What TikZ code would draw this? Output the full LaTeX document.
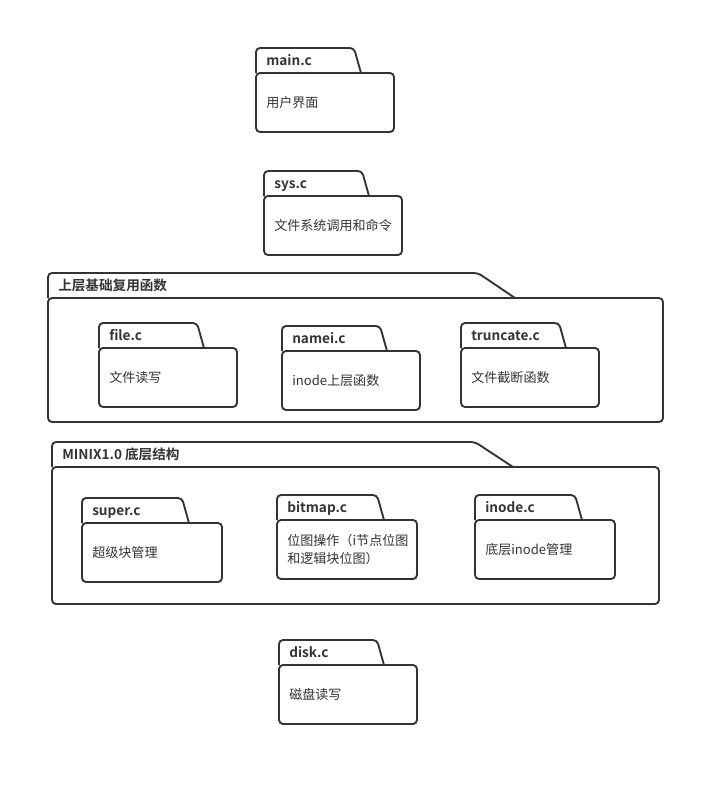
\documentclass[tikz,border=0pt]{standalone}
\usepackage{fontspec}
\setmainfont{Noto Sans CJK SC}[BoldFont={Noto Sans CJK SC Bold}]
\definecolor{pkgdark}{HTML}{333333}

\tikzset{
  pkgline/.style={draw=pkgdark, line width=1.4pt, line join=round},
  pkgtitle/.style={anchor=west, inner sep=0pt, text height=1.45ex, text depth=0pt,
    font=\fontsize{10.2}{12}\selectfont\bfseries, text=pkgdark},
  pkgtext/.style={anchor=west, inner sep=0pt, align=left, font=\fontsize{9.8}{13}\selectfont, text=pkgdark}
}

% package: #1 name, #2 x, #3 y of body top, #4 body width, #5 body height,
% #6 tab top width, #7 tab bottom width, #8 title, #9 text
\newcommand{\umlpkg}[9]{%
  \draw[pkgline, fill=white, rounded corners=3pt] (#2,#3) -- (#2,#3-25) -- (#2+#6,#3-25) -- (#2+#7,#3);
  \draw[pkgline, fill=white, rounded corners=3pt] (#2,#3) rectangle (#2+#4,#3+#5);
  \node[pkgtitle] (#1-title) at (#2+10,#3-12.5) {#8};
  \node[pkgtext] (#1-text) at (#2+10,#3+#5/2) {#9};
}

\begin{document}
\begin{tikzpicture}[x=0.75pt, y=-0.75pt]
  \useasboundingbox (0,0) rectangle (725,786);

  % top level files
  \umlpkg{main}{256}{73}{138}{59}{98}{105}{main.c}{用户界面}
  \umlpkg{sys}{264}{196}{138}{59}{98}{105}{sys.c}{文件系统调用和命令}

  % upper layer group
  \umlpkg{upper}{48}{298}{615}{124}{430}{467}{上层基础复用函数}{}
  \umlpkg{file}{99}{348}{138}{59}{98}{105}{file.c}{文件读写}
  \umlpkg{namei}{282}{351}{138}{59}{98}{105}{namei.c}{inode上层函数}
  \umlpkg{truncate}{461}{348}{138}{59}{98}{105}{truncate.c}{文件截断函数}

  % lower layer group
  \umlpkg{lower}{52}{467}{607}{137}{423}{461}{MINIX1.0 底层结构}{}
  \umlpkg{super}{82}{523}{140}{59}{100}{107}{super.c}{超级块管理}
  \umlpkg{bitmap}{277}{520}{140}{59}{100}{107}{bitmap.c}{位图操作（i节点位图\\和逻辑块位图）}
  \umlpkg{inode}{475}{520}{140}{59}{100}{107}{inode.c}{底层inode管理}

  % disk
  \umlpkg{disk}{279}{665}{138}{59}{98}{105}{disk.c}{磁盘读写}
\end{tikzpicture}
\end{document}
